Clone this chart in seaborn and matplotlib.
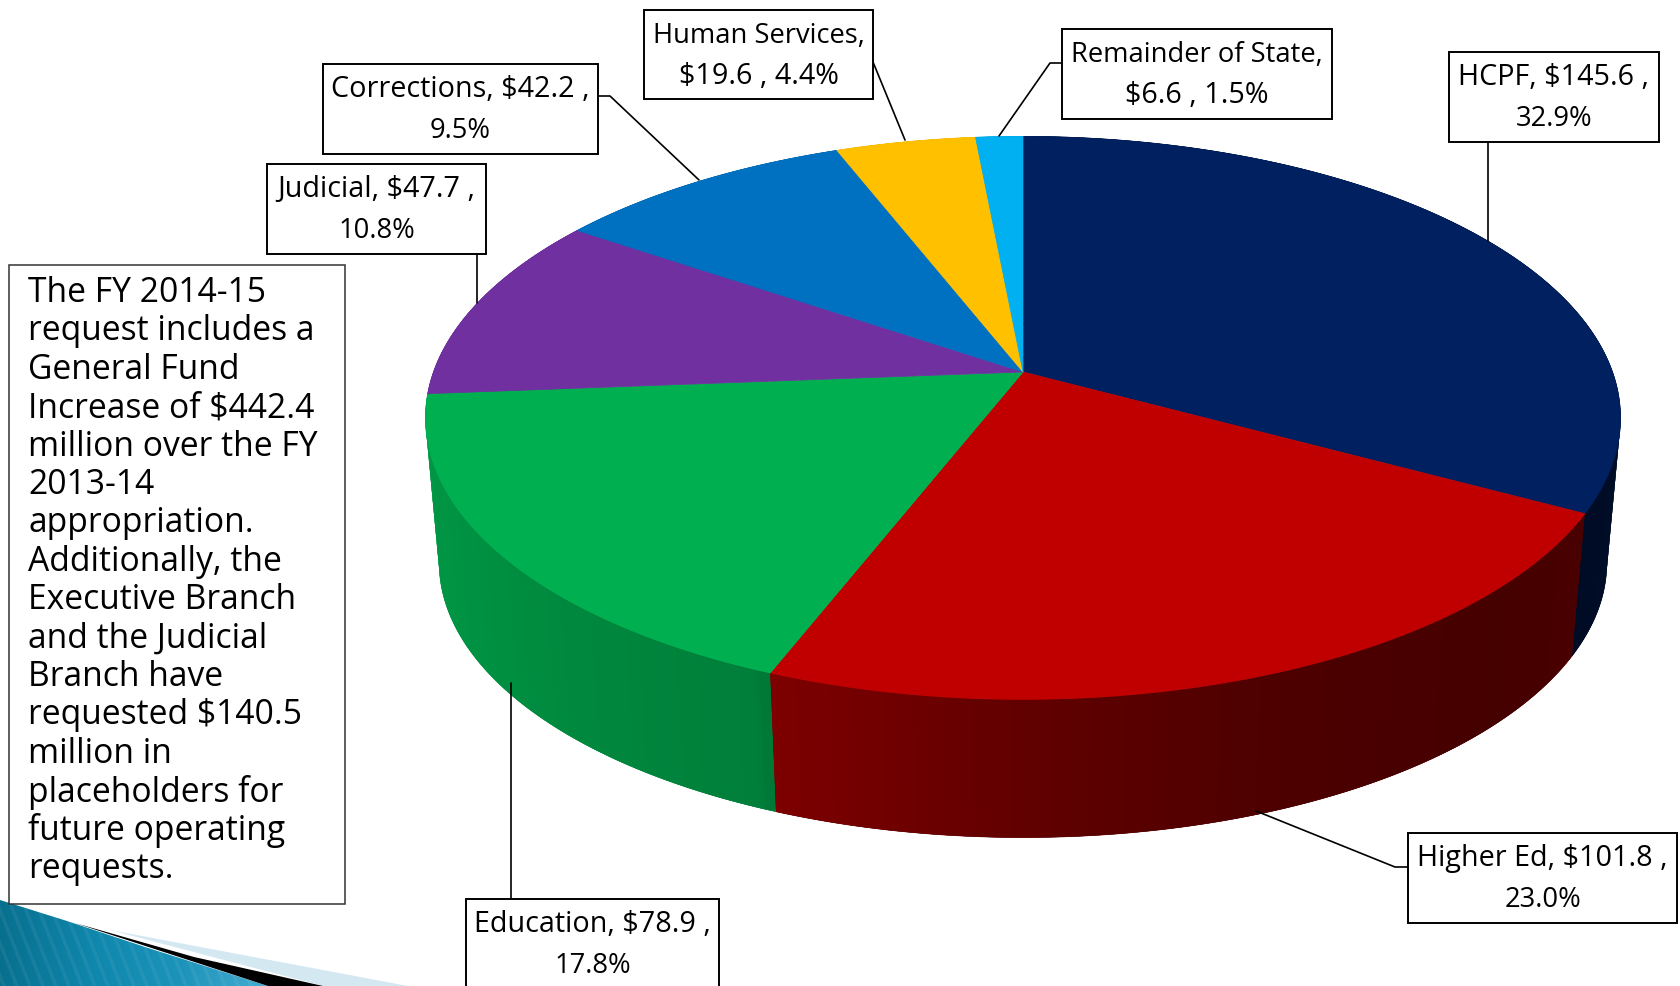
import numpy as np
import pandas as pd
import seaborn as sns
import matplotlib.pyplot as plt
from matplotlib.patches import Polygon, Rectangle

# Chart data
categories = ["HCPF", "Higher Ed", "Education", "Judicial", "Corrections", "Human Services", "Remainder of State"]
amounts = [145.6, 101.8, 78.9, 47.7, 42.2, 19.6, 6.6]
slice_colors = ["#002060", "#C00000", "#00B050", "#7030A0", "#0070C0", "#FFC000", "#00B0F0"]

label_lines = [
    ("HCPF, $145.6 ,", "32.9%"),
    ("Higher Ed, $101.8 ,", "23.0%"),
    ("Education, $78.9 ,", "17.8%"),
    ("Judicial, $47.7 ,", "10.8%"),
    ("Corrections, $42.2 ,", "9.5%"),
    ("Human Services,", "$19.6 , 4.4%"),
    ("Remainder of State,", "$6.6 , 1.5%"),
]

note_lines = [
    "The FY 2014-15", "request includes a", "General Fund", "Increase of $442.4",
    "million over the FY", "2013-14", "appropriation.", "Additionally, the",
    "Executive Branch", "and the Judicial", "Branch have", "requested $140.5",
    "million in", "placeholders for", "future operating", "requests.",
]

# label box (left, top, right, bottom) and leader line, pixels of the slide
label_boxes = [
    (1449, 52, 1659, 142), (1408, 833, 1677, 923), (466, 899, 719, 1000), (267, 164, 486, 254),
    (323, 64, 598, 154), (644, 10, 873, 99), (1062, 29, 1332, 119),
]
leaders = [
    [(1488, 142), (1488, 241)],
    [(1408, 867), (1395, 867), (1256, 811)],
    [(511, 899), (511, 683)],
    [(477, 254), (477, 303)],
    [(598, 96), (610, 96), (699, 180)],
    [(873, 62), (905, 140)],
    [(1062, 63), (1050, 63), (999, 136)],
]

# Pie geometry: a circle seen in perspective
CX, CY = 1023, 372
RX, RY, PERSP = 589.5, 274, 0.163
VANISH_Y, DEPTH = 6760, 0.9772


def project_top(theta):
    x, y = np.sin(theta), np.cos(theta)
    s = 1 / (1 + PERSP * y)
    return CX + RX * x * s, CY - RY * y * s


def project_bottom(theta):
    px, py = project_top(theta)
    return CX + (px - CX) * DEPTH, VANISH_Y + (py - VANISH_Y) * DEPTH


# side wall gets darker toward the lower right
def wall_shade(deg):
    return np.interp(deg, [90, 118, 134, 158, 173, 186, 201, 202, 240, 270, 360],
                     [0.42, 0.38, 0.36, 0.40, 0.47, 0.55, 0.66, 0.72, 0.83, 0.88, 0.9])


def draw_pie(ax, df):
    wall_quads = []
    wall_bases = []
    tops = []
    for _, row in df.iterrows():
        angles = np.radians(np.arange(row["start"], row["end"], 0.5))
        angles = np.append(angles, np.radians(row["end"]))
        tx, ty = project_top(angles)
        bx, by = project_bottom(angles)
        tops.append((np.r_[CX, tx], np.r_[CY, ty], row["color"]))
        rgb = np.array(row["color"])
        mid = tuple(rgb * wall_shade((row["start"] + row["end"]) / 2))
        wall_bases.append((ty.min(), list(zip(np.r_[tx, bx[::-1]], np.r_[ty, by[::-1]])), mid))
        n = len(angles)
        for i in range(n - 1):
            j = min(i + 2, n - 1)  # overlap the next strip to hide hairlines
            shade = wall_shade(np.degrees(angles[i]))
            quad = [(tx[i], ty[i]), (tx[j], ty[j]), (bx[j], by[j]), (bx[i], by[i])]
            wall_quads.append((ty[i], quad, tuple(rgb * shade)))

    # far side first so the near wall ends up on top
    wall_bases.sort(key=lambda q: q[0])
    for _, pts, c in wall_bases:
        ax.add_patch(Polygon(pts, closed=True, facecolor=c, edgecolor=c, linewidth=0.4))
    wall_quads.sort(key=lambda q: q[0])
    for _, quad, c in wall_quads:
        ax.add_patch(Polygon(quad, closed=True, facecolor=c, edgecolor="none", linewidth=0))
    for xs, ys, c in tops:
        ax.fill(xs, ys, facecolor=c, edgecolor=c, linewidth=0.5)


def draw_corner(ax):
    # slide template corner at the bottom left
    grad = np.linspace(0, 1, 256).reshape(1, -1)
    cmap = sns.blend_palette(["#08708F", "#0F86AB", "#1C93B9", "#46ADD2"], as_cmap=True)
    im = ax.imshow(grad, extent=(0, 270, 986, 900), cmap=cmap, aspect="auto", zorder=1)
    teal = Polygon([(0, 900), (67, 921), (145, 947), (268, 986), (0, 986)], closed=True, transform=ax.transData)
    im.set_clip_path(teal)
    for x0 in range(-30, 270, 13):
        line, = ax.plot([x0, x0 + 34], [900, 986], color="white", alpha=0.06, linewidth=2.5, zorder=1.5)
        line.set_clip_path(teal)
    ax.add_patch(Polygon([(110, 930), (408, 986), (323, 986)], closed=True, facecolor="#D3E8F1", edgecolor="none", zorder=1))
    ax.add_patch(Polygon([(75, 923), (194, 957), (323, 986), (268, 986)], closed=True, facecolor="black", edgecolor="none", zorder=2))


def label_size(text):
    # the original font has wider digits, so lines with amounts run longer
    return 20.7 if "$" in text else 19.7


def main():
    sns.set_theme(style="white")
    plt.rcParams["font.family"] = ["Open Sans", "DejaVu Sans"]

    df = pd.DataFrame({"category": categories, "amount": amounts, "color": sns.color_palette(slice_colors)})
    total = df["amount"].sum()
    df["end"] = df["amount"].cumsum() / total * 360
    df["start"] = df["end"] - df["amount"] / total * 360

    fig = plt.figure(figsize=(16.8, 9.86), dpi=100)
    ax = fig.add_axes([0, 0, 1, 1])

    draw_corner(ax)
    draw_pie(ax, df)

    for points in leaders:
        xs, ys = zip(*points)
        ax.plot(xs, ys, color="black", linewidth=1.2, zorder=4)

    for (l, t, r, b), lines in zip(label_boxes, label_lines):
        ax.add_patch(Rectangle((l, t), r - l, b - t, facecolor="white", edgecolor="black", linewidth=1.4, zorder=5))
        mid = (l + r) / 2
        ax.text(mid, t + 33, lines[0], ha="center", va="baseline", fontsize=label_size(lines[0]), color="black", zorder=6)
        ax.text(mid, t + 74, lines[1], ha="center", va="baseline", fontsize=label_size(lines[1]), color="black", zorder=6)

    ax.add_patch(Rectangle((9, 265), 336, 639, facecolor="white", edgecolor="#333333", linewidth=1.1, zorder=5))
    for i, line in enumerate(note_lines):
        ax.text(28, 293 + i * 38.4, line, ha="left", va="center", fontsize=24.2, color="black", zorder=6)

    ax.set_xlim(0, 1680)
    ax.set_ylim(986, 0)
    ax.axis("off")
    fig.savefig("out.png", dpi=100, facecolor="white")


if __name__ == "__main__":
    main()
